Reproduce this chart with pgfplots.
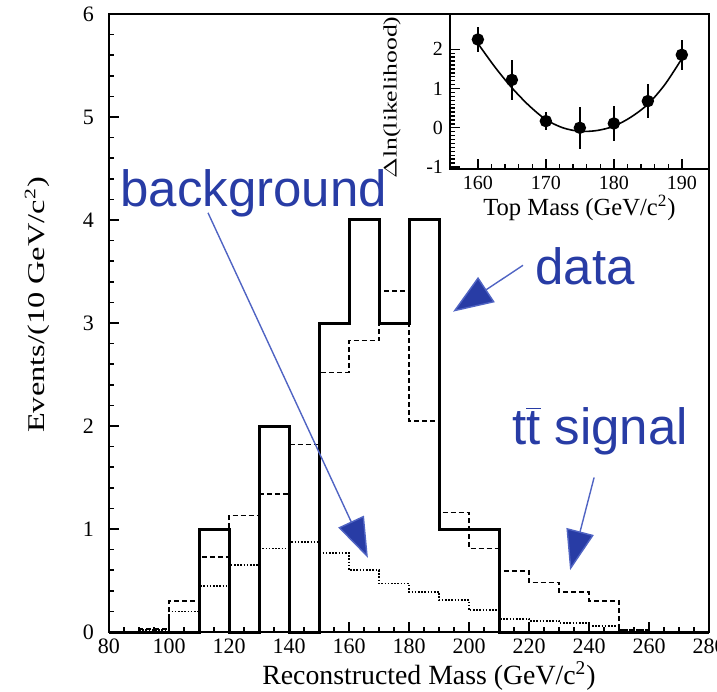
\documentclass[border=0pt]{standalone}
\usepackage{fontspec}
\setmainfont{Liberation Serif}
\newfontfamily\annotfont{Liberation Sans}
\usepackage{graphicx}
\usepackage{pgfplots}
\usepackage{pgfplotstable}
\pgfplotsset{compat=1.18}
\usetikzlibrary{arrows.meta,calc}
\definecolor{annot}{RGB}{40,60,165}
\definecolor{annotline}{RGB}{80,100,195}

\pgfplotstableread{
x data total bkg
80 0 0 0
90 0 0.03 0.02
100 0 0.30 0.20
110 1 0.73 0.45
120 0 1.13 0.65
130 2 1.34 0.81
140 0 1.82 0.87
150 3 2.52 0.77
160 4 2.83 0.60
170 3 3.31 0.47
180 4 2.05 0.39
190 1 1.16 0.31
200 1 0.81 0.21
210 0 0.59 0.13
220 0 0.48 0.11
230 0 0.39 0.09
240 0 0.30 0.06
250 0 0.02 0.02
260 0 0 0
270 0 0 0
280 0 0 0
}\hist

\pgfplotstableread{
m dl err
160 2.25 0.31
165 1.22 0.50
170 0.17 0.23
175 0.00 0.54
180 0.11 0.44
185 0.68 0.44
190 1.86 0.39
}\like

\pgfplotstableread{
m f
160 2.15
162.5 1.55
165 1.02
167.5 0.57
170 0.21
172.5 0.00
175 -0.09
177.5 -0.07
180 0.04
182.5 0.27
185 0.60
187.5 1.10
190 1.76
}\fit

\begin{document}
\begin{tikzpicture}
\begin{axis}[name=main,
  scale only axis, width=300pt, height=309pt,
  xmin=80, xmax=280, ymin=0, ymax=6,
  xtick={80,100,...,280}, minor x tick num=3,
  ytick={0,1,...,6}, minor y tick num=4,
  tick align=inside, xtick pos=bottom, ytick pos=left,
  major tick length=5pt, minor tick length=2.5pt,
  every tick/.style={black, line width=0.8pt},
  axis line style={line width=1pt},
  tick label style={font=\fontsize{11}{13}\selectfont},
  yticklabel style={xshift=-4pt},
  /pgf/number format/assume math mode=true,
  xlabel={Reconstructed Mass (GeV/c\textsuperscript{2})},
  xlabel style={font=\fontsize{13.9}{16}\selectfont, yshift=3pt, xshift=10pt},
  ylabel={\scalebox{1.35}[1]{Events/(10 GeV/c\textsuperscript{2})}},
  ylabel style={font=\fontsize{12}{14}\selectfont, yshift=10pt, xshift=9pt},
  clip=false,
]
\addplot[const plot, line width=0.9pt, dash pattern=on 0.8pt off 0.8pt] table[x=x, y=bkg] {\hist};
\addplot[const plot, line width=0.8pt, dash pattern=on 2.5pt off 1.5pt] table[x=x, y=total] {\hist};
\addplot[const plot, line width=1.5pt] table[x=x, y=data] {\hist};

\node[anchor=base west, font=\annotfont\fontsize{25.5}{28}\selectfont, text=annot, inner sep=0pt] at (axis cs:83.7,4.13) {background};
\node[anchor=base west, font=\annotfont\fontsize{25.5}{28}\selectfont, text=annot, inner sep=0pt] at (axis cs:222,3.37) {data};
\node[anchor=base west, font=\annotfont\fontsize{25.5}{28}\selectfont, text=annot, inner sep=0pt] at (axis cs:214.3,1.82) {t$\overline{\hbox{t}}$ signal};

\draw[annotline, line width=0.7pt, -{Triangle[length=20pt,width=14pt,fill=annot]}] (axis cs:113,4.07) -- (axis cs:166.3,0.72);
\draw[annotline, line width=0.7pt, -{Triangle[length=20pt,width=15pt,fill=annot]}] (axis cs:218,3.56) -- (axis cs:194.7,3.11);
\draw[annotline, line width=0.7pt, -{Triangle[length=20pt,width=14pt,fill=annot]}] (axis cs:241.7,1.50) -- (axis cs:233.7,0.60);
\end{axis}

\begin{axis}[at={(main.north east)}, anchor=north east,
  scale only axis, width=129.5pt, height=77.5pt,
  xmin=155.9, xmax=194, ymin=-1.05, ymax=2.9,
  xtick={160,170,180,190}, minor x tick num=4,
  ytick={-1,0,1,2}, minor y tick num=9,
  tick align=inside, xtick pos=bottom, ytick pos=left,
  major tick length=5pt, minor tick length=2.5pt,
  every tick/.style={black, line width=0.7pt},
  axis line style={line width=1pt},
  axis background/.style={fill=white},
  tick label style={font=\fontsize{10}{12}\selectfont},
  /pgf/number format/assume math mode=true,
  xlabel={Top Mass (GeV/c\textsuperscript{2})},
  xlabel style={font=\fontsize{12.3}{14}\selectfont, yshift=4pt},
  ylabel={\scalebox{1.35}[1]{$\Delta$ln(likelihood)}},
  ylabel style={font=\fontsize{9.5}{11}\selectfont, yshift=6pt, xshift=-3pt},
]
\addplot[smooth, line width=0.8pt] table[x=m, y=f] {\fit};
\addplot[only marks, mark=*, mark size=2.6pt, line width=1pt,
  error bars/.cd, y dir=both, y explicit, error bar style={line width=1pt}, error mark=none]
  table[x=m, y=dl, y error=err] {\like};
\end{axis}

\pgfresetboundingbox
\path[use as bounding box] ($(main.south west)+(-54.5pt,-29.5pt)$) rectangle ($(main.north east)+(4pt,7pt)$);
\end{tikzpicture}
\end{document}
